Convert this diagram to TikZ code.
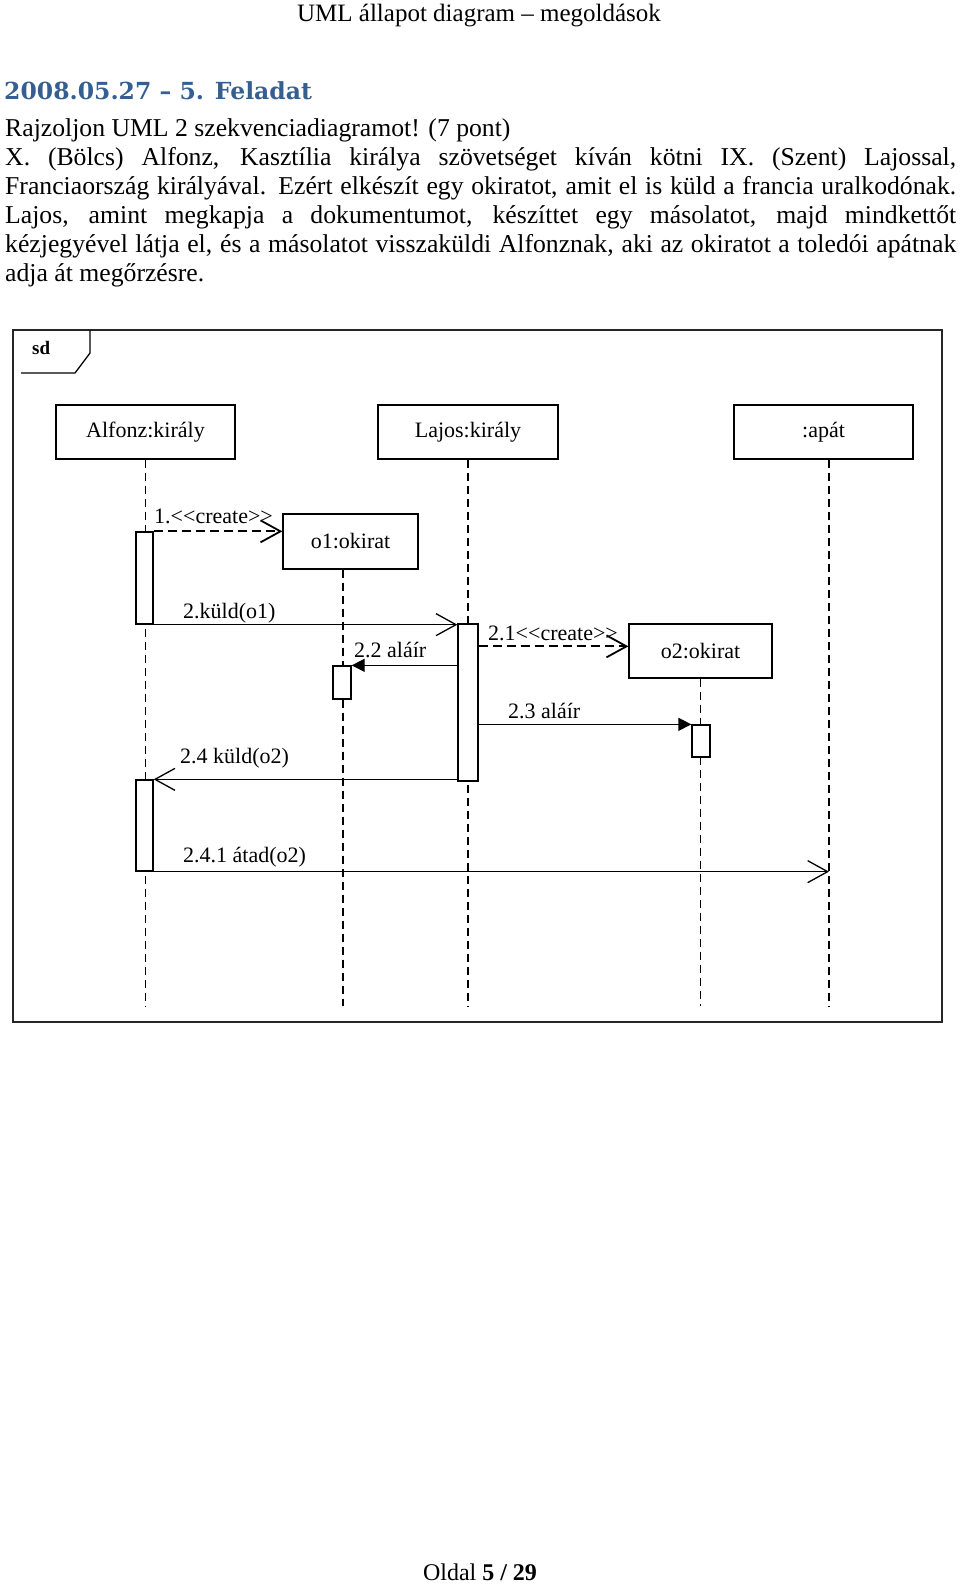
\documentclass[tikz,border=0pt]{standalone}
\usepackage{fontspec}
\setmainfont{Liberation Serif}
\newfontfamily\headfont{DejaVu Serif}
\usetikzlibrary{arrows.meta,calc,positioning}
\definecolor{headblue}{RGB}{54,95,145}
\newcommand\ltlt{<\kern0pt<}
\newcommand\gtgt{>\kern0pt>}

\begin{document}
\begin{tikzpicture}[x=1pt,y=-1pt,
	every node/.style={inner sep=0pt, font=\fontsize{22}{26}\selectfont},
	txt/.style={anchor=base west, font=\fontsize{25.7}{29}\selectfont},
	lab/.style={anchor=base west},
	obj/.style={draw, line width=1.3pt, fill=white, minimum width=179pt, minimum height=54pt},
	act/.style={draw, line width=1.3pt, fill=white, minimum width=18pt},
	lifeline/.style={line width=1.4pt, dash pattern=on 8pt off 5pt},
	call/.style={line width=1.3pt, -{Straight Barb[length=20pt,width=22pt]}},
	sync/.style={line width=1.3pt, -{Triangle[length=13pt,width=13pt]}},
	create/.style={call, line width=1.8pt, dash pattern=on 9pt off 5pt}]
	\useasboundingbox (0,0) rectangle (960,1584);

	% page text
	\node[anchor=base, font=\fontsize{25}{28}\selectfont] (head) at (479,22) {UML állapot diagram – megoldások};
	\node[anchor=base west, font=\headfont\bfseries\fontsize{23.5}{28}\selectfont, text=headblue] (title) at (4,100) {2008.05.27 – 5. Feladat};
	\node[txt] (line0) at (5,136) {Rajzoljon UML 2 szekvenciadiagramot! (7 pont)};
	\foreach \txt [count=\k] in {
			{X. (Bölcs) Alfonz, Kasztília királya szövetséget kíván kötni IX. (Szent) Lajossal,},
			{Franciaország királyával. Ezért elkészít egy okiratot, amit el is küld a francia uralkodónak.},
			{Lajos, amint megkapja a dokumentumot, készíttet egy másolatot, majd mindkettőt},
			{kézjegyével látja el, és a másolatot visszaküldi Alfonznak, aki az okiratot a toledói apátnak}} {
			\node[txt] (line\k) at (5,136+29*\k) {\makebox[951pt][s]{\txt}};
		}
	\node[txt] (line5) at (5,281) {adja át megőrzésre.};
	\node[anchor=base, font=\fontsize{24}{28}\selectfont] (foot) at (480,1580) {Oldal \textbf{5 / 29}};

	% frame
	\draw[line width=1.3pt, draw=black!85] (13,330) rectangle (942,1022);
	\draw[line width=1.3pt] (90,330) -- (90,353) -- (75,373) -- (21,373);
	\node[anchor=base west, font=\bfseries\fontsize{19}{22}\selectfont] (sd) at (32,354) {sd};

	% objects
	\node[obj] (alfonz) at (145.5,432) {Alfonz:király};
	\node[obj, minimum width=180pt] (lajos) at (468,432) {Lajos:király};
	\node[obj] (apat) at (823.5,432) {:apát};
	\node[obj, minimum width=135pt, minimum height=55pt] (o1) at (350.5,541.5) {o1:okirat};
	\node[obj, minimum width=143pt] (o2) at (700.5,651) {o2:okirat};

	% lifelines
	\coordinate (bottom) at (0,1006);
	\coordinate (apatline) at ([xshift=5.5pt]apat.south);
	\coordinate (o1line) at ([xshift=-7.5pt]o1.south);
	\draw[lifeline] (alfonz.south) -- (alfonz.south |- bottom);
	\draw[lifeline] (lajos.south) -- (lajos.south |- bottom);
	\draw[lifeline] (apatline) -- (apatline |- bottom);
	\draw[lifeline] (o1line) -- (o1line |- bottom);
	\draw[lifeline] (o2.south) -- (o2.south |- bottom);

	% activations
	\node[act, minimum width=17pt, minimum height=92pt] (a1) at (144.5,578) {};
	\node[act, minimum width=20pt, minimum height=157pt] (l1) at (468,702.5) {};
	\node[act, minimum height=33pt] (b1) at (342,682.5) {};
	\node[act, minimum height=32pt] (c1) at (701,741) {};
	\node[act, minimum width=17pt, minimum height=91pt] (a2) at (144.5,825.5) {};

	% messages
	\draw[create] (a1.north east) -- (a1.north east -| o1.west);
	\draw[call] (a1.south east) -- (a1.south east -| l1.west);
	\coordinate (m21) at ([yshift=-23pt]l1.north east);
	\draw[create] (m21) -- (m21 -| o2.west);
	\draw[sync] (b1.north east -| l1.west) -- (b1.north east);
	\draw[sync] (c1.north west -| l1.east) -- (c1.north west);
	\draw[call] (a2.north east -| l1.west) -- (a2.north east);
	\draw[call] (a2.south east) -- (a2.south east -| apatline);

	% message labels
	\node[lab] (t1) at (154,523) {1.\ltlt create\gtgt};
	\node[lab] (t2) at (183,618) {2.küld(o1)};
	\node[lab] (t21) at (488,640) {2.1\ltlt create\gtgt};
	\node[lab] (t22) at (354,657) {2.2 aláír};
	\node[lab] (t23) at (508,718) {2.3 aláír};
	\node[lab] (t24) at (180,763) {2.4 küld(o2)};
	\node[lab] (t241) at (183,862) {2.4.1 átad(o2)};
\end{tikzpicture}
\end{document}
